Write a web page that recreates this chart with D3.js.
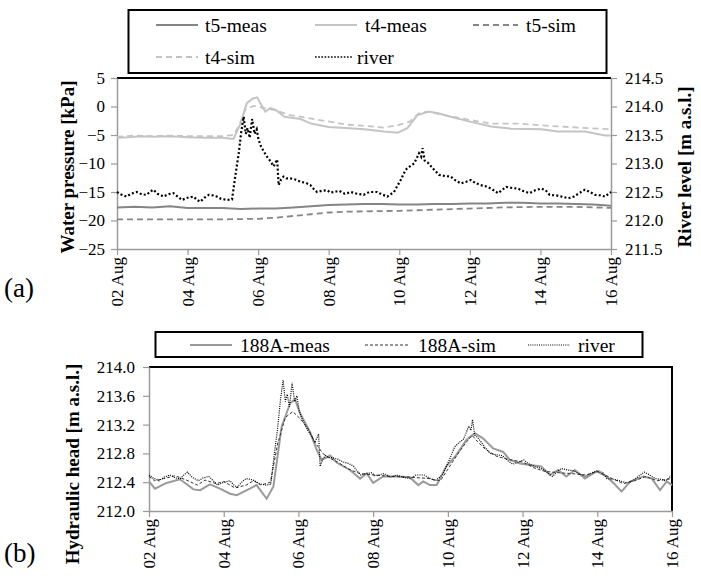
<!DOCTYPE html>
<html>
<head>
<meta charset="utf-8">
<script src="https://cdn.jsdelivr.net/npm/d3@7"></script>
<style>
  body { margin: 0; background: #fff; }
  svg text { font-family: "Liberation Serif", "Times New Roman", Times, "DejaVu Serif", serif; }
</style>
</head>
<body>
<div id="container"></div>
<script>
/* DATA: [day of August, value] */
const xTicks = [2, 4, 6, 8, 10, 12, 14, 16];
const pressureTicks = [5, 0, -5, -10, -15, -20, -25];
const riverTicks = [214.5, 214.0, 213.5, 213.0, 212.5, 212.0, 211.5];
const headTicks = [214.0, 213.6, 213.2, 212.8, 212.4, 212.0];

// water pressure [kPa]
const t5Meas = [[2,-17.7],[2.5,-17.6],[3,-17.7],[3.5,-17.5],[4,-17.8],[4.5,-17.8],[5,-17.8],[5.5,-18.0],[6,-17.9],[6.5,-17.9],[7,-17.7],[7.5,-17.5],[8,-17.3],[8.5,-17.2],[9,-17.1],[9.5,-17.1],[10,-17.2],[10.5,-17.2],[11,-17.1],[11.5,-17.1],[12,-17.0],[12.5,-17.0],[13,-16.9],[13.5,-16.9],[14,-17.0],[14.5,-17.0],[15,-17.1],[15.5,-17.2],[16,-17.4]];
const t4Meas = [[2,-5.5],[2.3,-5.4],[2.7,-5.2],[3.0,-5.3],[3.5,-5.2],[4,-5.4],[4.5,-5.5],[5,-5.5],[5.3,-5.7],[5.5,-3.0],[5.68,0.6],[5.85,1.4],[5.97,1.6],[6.2,-0.9],[6.35,-0.3],[6.5,-0.6],[6.75,-1.8],[7.0,-2.0],[7.2,-2.2],[7.5,-3.0],[8.0,-3.6],[8.6,-3.8],[9.0,-4.0],[9.57,-4.4],[9.95,-4.6],[10.23,-3.8],[10.51,-1.5],[10.84,-0.9],[11.1,-1.2],[11.46,-1.8],[12.03,-2.7],[12.6,-3.5],[13.17,-3.9],[14.02,-4.0],[14.5,-4.4],[15.26,-4.4],[15.83,-5.1],[16,-5.1]];
const t5Sim = [[2,-19.8],[3,-19.8],[4,-19.8],[5,-19.8],[6,-19.7],[6.5,-19.5],[7,-19.2],[7.5,-18.9],[8,-18.6],[8.5,-18.45],[9,-18.4],[10,-18.3],[11,-18.1],[12,-17.9],[13,-17.7],[14,-17.6],[15,-17.6],[15.5,-17.7],[16,-17.8]];
const t4Sim = [[2,-5.3],[2.5,-5.1],[3,-5.2],[3.5,-5.1],[4,-5.2],[4.5,-5.2],[5,-5.2],[5.3,-5.0],[5.45,-3.5],[5.63,-0.6],[5.87,0.1],[6.1,-0.2],[6.44,-0.6],[6.91,-1.5],[7.67,-2.3],[8.53,-3.2],[9.0,-3.4],[9.57,-3.7],[9.95,-3.3],[10.28,-2.7],[10.56,-1.2],[10.8,-0.9],[11.27,-1.5],[12.03,-2.4],[12.6,-3.0],[13.36,-3.0],[14.02,-3.3],[14.79,-3.6],[16,-4.0]];

// river level [m a.s.l.], used in both panels
const river = [[2.0,212.50],[2.1,212.46],[2.27,212.42],[2.4,212.47],[2.56,212.50],[2.7,212.46],[2.84,212.45],[2.95,212.51],[3.03,212.54],[3.15,212.47],[3.32,212.42],[3.45,212.46],[3.6,212.48],[3.72,212.42],[3.84,212.36],[4.0,212.40],[4.17,212.42],[4.27,212.36],[4.36,212.33],[4.48,212.40],[4.6,212.45],[4.72,212.44],[4.83,212.42],[4.95,212.38],[5.12,212.36],[5.26,212.37],[5.35,212.77],[5.45,213.18],[5.52,213.55],[5.59,213.82],[5.65,213.52],[5.7,213.62],[5.76,213.45],[5.83,213.78],[5.9,213.52],[5.96,213.60],[6.01,213.42],[6.08,213.30],[6.16,213.21],[6.25,213.12],[6.35,213.04],[6.44,212.95],[6.54,213.07],[6.58,212.62],[6.65,212.72],[6.72,212.77],[6.8,212.74],[6.91,212.74],[7.05,212.72],[7.2,212.68],[7.35,212.66],[7.48,212.62],[7.58,212.55],[7.67,212.50],[7.8,212.52],[7.96,212.53],[8.05,212.49],[8.15,212.50],[8.3,212.52],[8.45,212.47],[8.53,212.48],[8.62,212.50],[8.8,212.47],[8.99,212.45],[9.15,212.50],[9.37,212.50],[9.5,212.46],[9.66,212.42],[9.85,212.50],[10.04,212.71],[10.18,212.89],[10.3,212.95],[10.42,213.0],[10.5,213.1],[10.56,213.18],[10.62,213.12],[10.66,213.27],[10.72,213.05],[10.8,213.02],[10.9,212.95],[11.0,212.88],[11.13,212.80],[11.3,212.78],[11.46,212.77],[11.6,212.70],[11.74,212.65],[11.9,212.68],[12.03,212.71],[12.15,212.66],[12.31,212.62],[12.45,212.60],[12.6,212.56],[12.8,212.48],[12.9,212.53],[13.03,212.59],[13.2,212.57],[13.36,212.56],[13.5,212.52],[13.69,212.48],[13.85,212.53],[14.02,212.56],[14.15,212.53],[14.26,212.45],[14.45,212.44],[14.6,212.42],[14.79,212.39],[14.95,212.42],[15.1,212.48],[15.26,212.54],[15.4,212.50],[15.55,212.45],[15.7,212.44],[15.83,212.42],[16.0,212.50]];

// hydraulic head [m a.s.l.]
const meas188A = [[2.0,212.41],[2.16,212.31],[2.47,212.39],[2.83,212.44],[3.19,212.30],[3.37,212.29],[3.63,212.37],[3.9,212.31],[4.17,212.24],[4.35,212.22],[4.7,212.31],[4.88,212.36],[5.15,212.17],[5.33,212.34],[5.55,213.17],[5.78,213.50],[5.91,213.55],[6.04,213.36],[6.31,213.10],[6.49,212.85],[6.62,212.71],[6.85,212.77],[7.03,212.67],[7.38,212.57],[7.65,212.45],[7.83,212.52],[8.0,212.39],[8.27,212.48],[8.63,212.48],[8.98,212.47],[9.21,212.36],[9.34,212.41],[9.52,212.36],[9.7,212.36],[9.96,212.62],[10.23,212.78],[10.5,212.99],[10.72,213.08],[10.94,213.01],[11.21,212.87],[11.48,212.82],[11.66,212.71],[11.93,212.66],[12.2,212.64],[12.5,212.62],[12.73,212.50],[12.95,212.57],[13.17,212.48],[13.4,212.57],[13.67,212.45],[13.98,212.55],[14.25,212.48],[14.43,212.39],[14.65,212.27],[14.88,212.41],[15.23,212.48],[15.46,212.45],[15.68,212.29],[15.86,212.41],[16.0,212.36]];
const sim188A = [[2.0,212.48],[2.15,212.42],[2.4,212.45],[2.7,212.49],[3.0,212.43],[3.3,212.36],[3.5,212.43],[3.8,212.38],[4.0,212.41],[4.3,212.32],[4.6,212.36],[4.8,212.42],[5.0,212.36],[5.25,212.40],[5.45,212.95],[5.65,213.30],[5.85,213.38],[6.05,213.28],[6.25,213.15],[6.45,212.95],[6.65,212.80],[6.85,212.73],[7.05,212.68],[7.35,212.58],[7.65,212.52],[8.0,212.50],[8.5,212.48],[9.0,212.47],[9.5,212.45],[9.8,212.42],[10.0,212.58],[10.3,212.82],[10.5,212.96],[10.65,213.05],[10.8,212.96],[11.0,212.86],[11.3,212.76],[11.6,212.72],[12.0,212.68],[12.3,212.60],[12.6,212.55],[13.0,212.53],[13.3,212.52],[13.7,212.50],[14.0,212.55],[14.4,212.45],[14.7,212.38],[15.0,212.42],[15.3,212.48],[15.6,212.42],[16.0,212.45]];

/* LAYOUT */
const width = 701, height = 584;
const axisGray = "#9a9a9a";
const fmtDay = d => d3.format("02")(d) + " Aug";

const svg = d3.select("#container")
  .append("svg")
  .attr("width", width)
  .attr("height", height);

// line styles
const styles = {
  t5Meas: { stroke: "#858585", width: 2, dash: null },
  t4Meas: { stroke: "#c4c4c4", width: 2, dash: null },
  t5Sim:  { stroke: "#858585", width: 1.8, dash: "6 4" },
  t4Sim:  { stroke: "#c4c4c4", width: 1.8, dash: "6 4" },
  riverA: { stroke: "#000", width: 2.2, dash: "2 2.2" },
  meas:   { stroke: "#9a9a9a", width: 2, dash: null },
  sim:    { stroke: "#333", width: 1, dash: "3 2" },
  riverB: { stroke: "#000", width: 1.2, dash: "1 1.2" }
};

function drawLine(g, data, x, y, st) {
  g.append("path")
    .datum(data)
    .attr("fill", "none")
    .attr("stroke", st.stroke)
    .attr("stroke-width", st.width)
    .attr("stroke-dasharray", st.dash)
    .attr("d", d3.line().x(d => x(d[0])).y(d => y(d[1])));
}

function styleAxis(g) {
  g.attr("font-family", null).attr("font-size", null);
  g.select(".domain").attr("stroke", axisGray).attr("stroke-width", 1.5);
  g.selectAll(".tick line").attr("stroke", axisGray).attr("stroke-width", 1.2);
  g.selectAll("text").attr("fill", "#000").style("font-size", "17px");
}

function legendItem(g, x1, x2, xt, y, st, label) {
  g.append("line")
    .attr("x1", x1).attr("x2", x2).attr("y1", y).attr("y2", y)
    .attr("stroke", st.stroke)
    .attr("stroke-width", st.width === 1 ? 1 : Math.min(st.width, 2))
    .attr("stroke-dasharray", st.dash);
  g.append("text")
    .attr("x", xt).attr("y", y)
    .attr("dy", "0.35em")
    .style("font-size", "19.5px")
    .text(label);
}

/* PANEL (a) ---------------------------------------------- */
const xA = d3.scaleLinear().domain([2, 16]).range([117, 611]);
const yA = d3.scaleLinear().domain([-25, 5]).range([249, 78]);
const yR = d3.scaleLinear().domain([211.5, 214.5]).range([249, 78]);

const gA = svg.append("g");

// top frame line
gA.append("line")
  .attr("x1", xA(2)).attr("x2", xA(16)).attr("y1", yA(5)).attr("y2", yA(5))
  .attr("stroke", "#000").attr("stroke-width", 2);

gA.append("g")
  .attr("transform", `translate(0,${yA(-25)})`)
  .call(d3.axisBottom(xA).tickValues(xTicks).tickSize(6).tickSizeOuter(0).tickFormat(""))
  .call(styleAxis);

gA.append("g")
  .attr("transform", `translate(${xA(2)},0)`)
  .call(d3.axisLeft(yA).tickValues(pressureTicks).tickSize(6).tickPadding(6).tickSizeOuter(0))
  .call(styleAxis);

gA.append("g")
  .attr("transform", `translate(${xA(16)},0)`)
  .call(d3.axisRight(yR).tickValues(riverTicks).tickSize(6).tickPadding(8).tickSizeOuter(0)
    .tickFormat(d3.format(".1f")))
  .call(styleAxis);

// rotated date labels
gA.selectAll(".xlabA")
  .data(xTicks)
  .join("text")
  .attr("class", "xlabA")
  .attr("transform", d => `translate(${xA(d)},${yA(-25) + 8}) rotate(-90)`)
  .attr("text-anchor", "end")
  .attr("dy", "0.35em")
  .style("font-size", "17px")
  .text(fmtDay);

drawLine(gA, t5Sim, xA, yA, styles.t5Sim);
drawLine(gA, t5Meas, xA, yA, styles.t5Meas);
drawLine(gA, t4Meas, xA, yA, styles.t4Meas);
drawLine(gA, t4Sim, xA, yA, styles.t4Sim);
drawLine(gA, river, xA, yR, styles.riverA);

gA.append("text")
  .attr("transform", "translate(67,167) rotate(-90)")
  .attr("text-anchor", "middle")
  .attr("dy", "0.35em")
  .style("font-size", "19px")
  .style("font-weight", "bold")
  .text("Water pressure [kPa]");

gA.append("text")
  .attr("transform", "translate(684,167) rotate(-90)")
  .attr("text-anchor", "middle")
  .attr("dy", "0.35em")
  .style("font-size", "19px")
  .style("font-weight", "bold")
  .text("River level [m a.s.l.]");

gA.append("text")
  .attr("x", 4).attr("y", 297)
  .style("font-size", "27px")
  .text("(a)");

// legend (a)
const legA = gA.append("g");
legA.append("rect")
  .attr("x", 128.5).attr("y", 10).attr("width", 478).attr("height", 63)
  .attr("fill", "#fff").attr("stroke", "#000").attr("stroke-width", 2);
legendItem(legA, 156, 198, 205, 25, styles.t5Meas, "t5-meas");
legendItem(legA, 315, 357, 365, 25, styles.t4Meas, "t4-meas");
legendItem(legA, 473, 518, 526, 25, styles.t5Sim, "t5-sim");
legendItem(legA, 156, 198, 205, 57, styles.t4Sim, "t4-sim");
legendItem(legA, 315, 352, 357, 57, { stroke: "#000", width: 1.6, dash: "1.6 1.6" }, "river");

/* PANEL (b) ---------------------------------------------- */
const xB = d3.scaleLinear().domain([2, 16]).range([149, 672]);
const yB = d3.scaleLinear().domain([212.0, 214.0]).range([511, 367]);

const gB = svg.append("g");

gB.append("path")
  .attr("d", `M${xB(2)},${yB(214)}H${xB(16)}V${yB(212)}`)
  .attr("fill", "none").attr("stroke", "#000").attr("stroke-width", 2);

gB.append("g")
  .attr("transform", `translate(0,${yB(212)})`)
  .call(d3.axisBottom(xB).tickValues(xTicks).tickSize(6).tickSizeOuter(0).tickFormat(""))
  .call(styleAxis);

gB.append("g")
  .attr("transform", `translate(${xB(2)},0)`)
  .call(d3.axisLeft(yB).tickValues(headTicks).tickSize(6).tickPadding(8).tickSizeOuter(0)
    .tickFormat(d3.format(".1f")))
  .call(styleAxis);

gB.selectAll(".xlabB")
  .data(xTicks)
  .join("text")
  .attr("class", "xlabB")
  .attr("transform", d => `translate(${xB(d)},${yB(212) + 8}) rotate(-90)`)
  .attr("text-anchor", "end")
  .attr("dy", "0.35em")
  .style("font-size", "17px")
  .text(fmtDay);

drawLine(gB, meas188A, xB, yB, styles.meas);
drawLine(gB, sim188A, xB, yB, styles.sim);
drawLine(gB, river, xB, yB, styles.riverB);

gB.append("text")
  .attr("transform", "translate(72,464) rotate(-90)")
  .attr("text-anchor", "middle")
  .attr("dy", "0.35em")
  .style("font-size", "19px")
  .style("font-weight", "bold")
  .text("Hydraulic head [m a.s.l.]");

gB.append("text")
  .attr("x", 4).attr("y", 562)
  .style("font-size", "27px")
  .text("(b)");

// legend (b)
const legB = gB.append("g");
legB.append("rect")
  .attr("x", 155.5).attr("y", 332).attr("width", 487).attr("height", 25)
  .attr("fill", "#fff").attr("stroke", "#000").attr("stroke-width", 2);
legendItem(legB, 190, 232, 240, 345, styles.meas, "188A-meas");
legendItem(legB, 365, 410, 418, 345, styles.sim, "188A-sim");
legendItem(legB, 528, 570, 578, 345, styles.riverB, "river");
</script>
</body>
</html>
